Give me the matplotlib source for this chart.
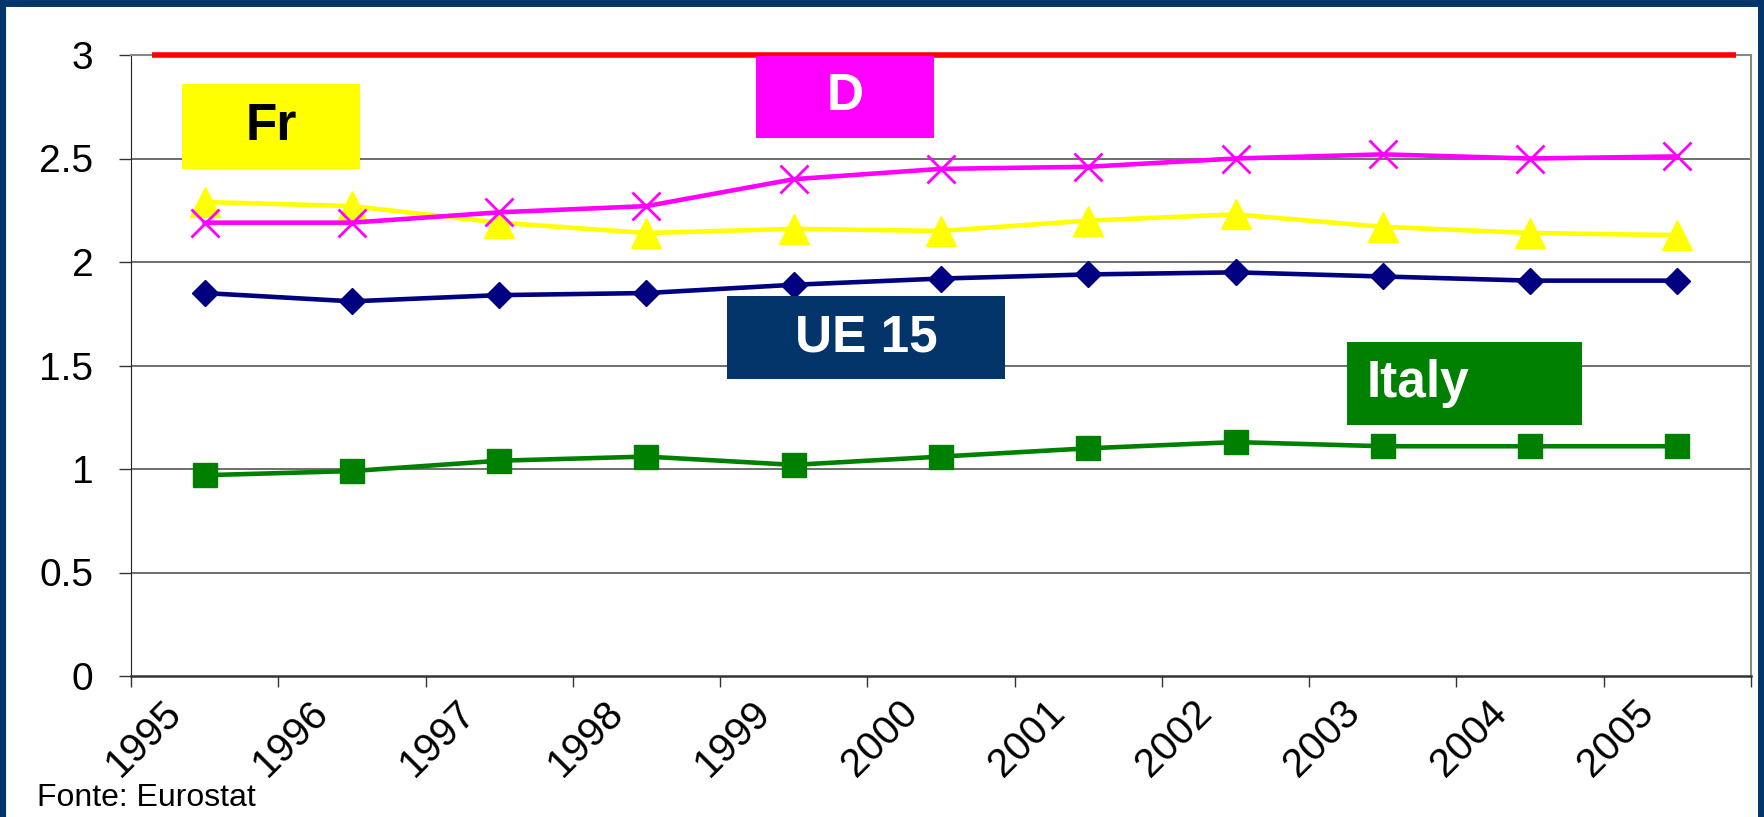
import matplotlib.pyplot as plt
from matplotlib.lines import Line2D
from matplotlib.patches import Rectangle

plt.rcParams["font.family"] = ["Liberation Sans", "DejaVu Sans"]

years = ["1995", "1996", "1997", "1998", "1999", "2000", "2001", "2002", "2003", "2004", "2005"]
fr = [2.29, 2.27, 2.19, 2.14, 2.16, 2.15, 2.20, 2.23, 2.17, 2.14, 2.13]
de = [2.19, 2.19, 2.24, 2.27, 2.40, 2.45, 2.46, 2.50, 2.52, 2.50, 2.51]
ue15 = [1.85, 1.81, 1.84, 1.85, 1.89, 1.92, 1.94, 1.95, 1.93, 1.91, 1.91]
italy = [0.97, 0.99, 1.04, 1.06, 1.02, 1.06, 1.10, 1.13, 1.11, 1.11, 1.11]
target = 3.0

W, H = 1764, 817
NAVY = "#03356a"

fig = plt.figure(figsize=(W / 100, H / 100), dpi=100, facecolor="white")
ax = fig.add_axes([131 / W, 1 - 676 / H, (1751 - 131) / W, (676 - 55) / H])

x = [i + 0.5 for i in range(len(years))]

# grid
for v in [0.5, 1.0, 1.5, 2.0, 2.5]:
    ax.axhline(v, color="#555555", lw=1.2, zorder=1)

ax.plot(x, italy, color="#008000", lw=3.3, marker="s", ms=17, zorder=3)
ax.plot(x, ue15, color="#000080", lw=3.3, marker="D", ms=13.5, zorder=3)
ax.plot(x, fr, color="#ffff00", lw=3.3, marker="^", ms=21, zorder=3)
ax.plot(x, de, color="#ff00ff", lw=3.3, marker="x", ms=20, mew=2, zorder=3)
ax.hlines(target, 0.14, 10.9, color="#ff0000", lw=4, zorder=4, clip_on=False)

ax.set_xlim(0, len(years))
ax.set_ylim(0, 3)
ax.set_yticks([0, 0.5, 1, 1.5, 2, 2.5, 3])
ax.set_yticklabels(["0", "0.5", "1", "1.5", "2", "2.5", "3"])
ax.set_xticks(range(len(years) + 1))
ax.set_xticklabels([])
ax.set_xticks([i + 0.3 for i in range(len(years))], minor=True)
ax.set_xticklabels(years, minor=True, fontsize=29, rotation=45,
                   ha="right", va="center", rotation_mode="anchor")
ax.tick_params(axis="x", which="major", length=8, width=1, color="#333333")
ax.tick_params(axis="x", which="minor", length=0, pad=22)
ax.tick_params(axis="y", length=9, width=1, labelsize=28, pad=18, color="#333333")

for s in ["top", "right"]:
    ax.spines[s].set_color("#888888")
    ax.spines[s].set_linewidth(1.5)
ax.spines["left"].set_color("#222222")
ax.spines["bottom"].set_color("#333333")
ax.spines["bottom"].set_linewidth(1.8)

# series label boxes (pixel positions in figure)
labels = ["Fr", "D", "UE 15", "Italy"]
box_colors = ["#ffff00", "#ff00ff", NAVY, "#008000"]
text_colors = ["black", "white", "white", "white"]
boxes = [(182, 84, 360, 169), (756, 56, 934, 138), (727, 296, 1005, 379), (1347, 342, 1582, 425)]
text_x = [271, 845, 866, 1367]
text_ha = ["center", "center", "center", "left"]
for lab, bc, tc, (x0, y0, x1, y1), tx, ha in zip(labels, box_colors, text_colors, boxes, text_x, text_ha):
    fig.add_artist(Rectangle((x0 / W, 1 - y1 / H), (x1 - x0) / W, (y1 - y0) / H,
                             transform=fig.transFigure, facecolor=bc, edgecolor="none", zorder=5))
    fig.text(tx / W, 1 - (y0 + y1) / 2 / H, lab, color=tc, fontsize=37, fontweight="bold",
             ha=ha, va="center", zorder=6)

fig.text(37 / W, 1 - 798 / H, "Fonte: Eurostat", fontsize=23, ha="left", va="center")

# slide frame
for xs, ys in [([0, 0], [0, 1]), ([0, 1], [1 - 3 / H, 1 - 3 / H]), ([1 - 3 / W, 1 - 3 / W], [0, 1])]:
    fig.add_artist(Line2D(xs, ys, transform=fig.transFigure, color=NAVY, lw=8 if xs == [0, 0] else 5))

fig.savefig("out.png", dpi=100, facecolor="white")
